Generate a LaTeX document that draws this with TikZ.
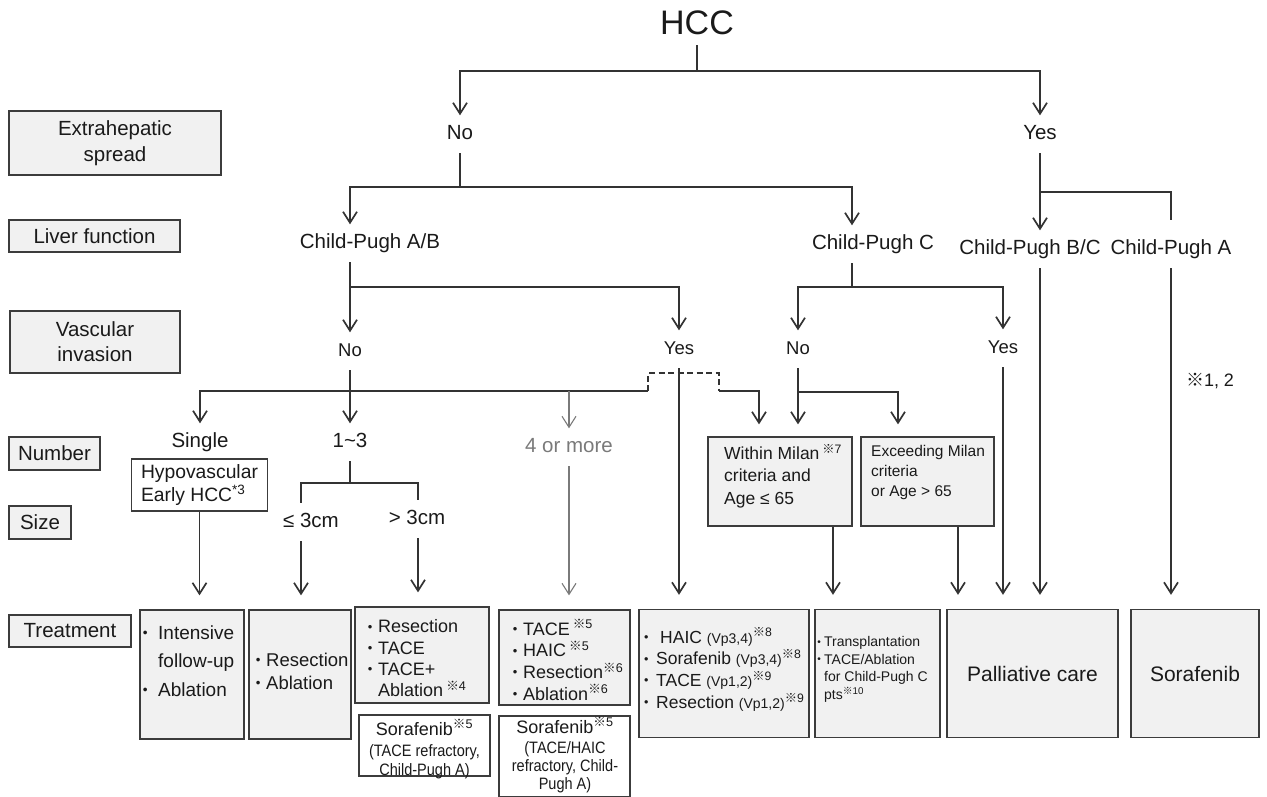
\documentclass[tikz,border=0pt]{standalone}
\usepackage{fontspec}
\setmainfont{Liberation Sans}
\newfontfamily\cjk{Noto Sans CJK JP}
\newfontfamily\cond[FakeStretch=0.88]{Liberation Sans}
\usetikzlibrary{arrows.meta}
\definecolor{lnc}{HTML}{333333}
\definecolor{txc}{HTML}{1A1A1A}
\definecolor{bxc}{HTML}{3C3C3C}
\definecolor{bxf}{HTML}{F1F1F1}
\definecolor{grc}{HTML}{7A7A7A}
\newcommand\fs[2]{\fontsize{#1pt}{#2pt}\selectfont}
\newcommand\rmk[1]{\textsuperscript{{\cjk ※}#1}}
\newcommand\bd[1]{\makebox[0pt]{\raisebox{0.1em}{\scalebox{0.72}{•}}}\hspace*{#1pt}}
\newcommand\vp{\fs{14}{17}}
\tikzset{
 ln/.style={draw=lnc, line width=1.7pt},
 thk/.style={draw=lnc, line width=2.7pt, line cap=rect},
 arr/.style={ln, -{Straight Barb[length=11pt,width=14pt]}},
 garr/.style={draw=grc, line width=1.1pt, -{Straight Barb[length=11pt,width=14pt]}},
 dsh/.style={ln, dash pattern=on 6pt off 3.5pt},
 lv/.style={text=txc, font=\fs{20.5}{24}, inner xsep=1pt, inner ysep=9pt, text height=15pt, text depth=4.5pt},
 lvs/.style={lv, font=\fs{18.5}{22}},
 labbox/.style={draw=bxc, line width=1.3pt, fill=bxf, text=txc, font=\fs{20.5}{26}, align=center, inner sep=0pt},
 box/.style={draw=bxc, line width=1.3pt, fill=bxf, inner sep=0pt},
 wbox/.style={box, fill=white},
 bt/.style={text=txc, inner sep=0pt, align=left, anchor=west},
 ct/.style={text=txc, inner sep=0pt, align=center},
}
\begin{document}
\begin{tikzpicture}[x=1pt,y=-1pt]
\useasboundingbox (0,0) rectangle (1267,796);
\fill[white] (0,0) rectangle (1267,796);

% row labels
\node[labbox, minimum width=212pt, minimum height=64pt] (lext) at (115,143) {Extrahepatic\\spread};
\node[labbox, minimum width=171pt, minimum height=32pt] (lliv) at (94.5,236) {Liver function};
\node[labbox, minimum width=170pt, minimum height=62pt, font=\fs{20.5}{25}] (lvas) at (95,342) {Vascular\\invasion};
\node[labbox, minimum width=91pt, minimum height=33pt] (lnum) at (54.5,453.5) {Number};
\node[labbox, minimum width=62pt, minimum height=33pt] (lsiz) at (40,522.5) {Size};
\node[labbox, minimum width=122pt, minimum height=32pt] (ltrt) at (70,631) {Treatment};

% level texts
\node[text=txc, font=\fs{34}{40}, inner sep=10pt] (hcc) at (697,23) {HCC};
\node[lv] (no1) at (460,134.25) {No};
\node[lv] (yes1) at (1040,134.25) {Yes};
\node[lv] (cpab) at (370,243.25) {Child-Pugh A/B};
\node[lv] (cpc) at (873,244.25) {Child-Pugh C};
\node[lv] (cpbc) at (1030,249.25) {Child-Pugh B/C};
\node[lv] (cpa) at (1171,249.25) {Child-Pugh A};
\node[lvs] (vno) at (350,351.25) {No};
\node[lvs] (vyes) at (679,349.25) {Yes};
\node[lvs] (cno) at (798,349.25) {No};
\node[lvs] (cyes) at (1003,348.25) {Yes};
\node[lv] (single) at (200,442.25) {Single};
\node[lv] (one3) at (350,442.25) {1\textasciitilde3};
\node[lv, text=grc] (four) at (569,447.25) {4 or more};
\node[lv] (le3) at (311,522.25) {≤ 3cm};
\node[lv] (gt3) at (417,519.25) {> 3cm};
\node[text=txc, font=\fs{18}{22}, inner sep=0pt] (r12) at (1210,381) {{\cjk ※}1, 2};

% intermediate boxes
\node[wbox, minimum width=136pt, minimum height=52pt, text=txc, font=\fs{19.3}{23.5}, align=left] (hypo) at (199.5,485) {Hypovascular\\Early HCC\textsuperscript{*3}};
\node[box, minimum width=144pt, minimum height=89pt] (milan) at (780,481.5) {};
\node[bt, font=\fs{17.5}{22.5}] (milant) at (724,476) {Within Milan\,\rmk{7}\\criteria and\\Age ≤ 65};
\node[box, minimum width=133pt, minimum height=89pt] (exc) at (927.5,481.5) {};
\node[bt, font=\fs{15.5}{20}] (exct) at (871,472.5) {Exceeding Milan\\criteria\\or Age > 65};

% treatment boxes
\node[box, minimum width=104pt, minimum height=129pt] (t1) at (192,674.5) {};
\node[bt, font=\fs{19}{28.5}] (t1t) at (145,661) {\bd{13}Intensive\\\hspace*{13pt}follow-up\\\bd{13}Ablation};
\node[box, minimum width=102pt, minimum height=129pt] (t2) at (300,674.5) {};
\node[bt, font=\fs{18.5}{23}] (t2t) at (258,671) {\bd{8}Resection\\\bd{8}Ablation};
\node[box, minimum width=134pt, minimum height=96pt] (t3) at (422,655) {};
\node[bt, font=\fs{18}{21.3}] (t3t) at (370,658.5) {\bd{8}Resection\\\bd{8}TACE\\\bd{8}TACE+\\\hspace*{8pt}Ablation\,\rmk{4}};
\node[wbox, minimum width=131pt, minimum height=61pt] (t3b) at (424.5,745.5) {};
\node[ct, font=\cond\fs{16.5}{18.5}] (t3bt) at (424.5,749) {{\fs{18}{22}\normalfont Sorafenib\rmk{5}}\\[3pt](TACE refractory,\\Child-Pugh A)};
\node[box, minimum width=131pt, minimum height=95pt] (t4) at (564.5,657.5) {};
\node[bt, font=\fs{18}{21.7}] (t4t) at (515,660) {\bd{8}TACE\,\rmk{5}\\\bd{8}HAIC\,\rmk{5}\\\bd{8}Resection\rmk{6}\\\bd{8}Ablation\rmk{6}};
\node[wbox, minimum width=131pt, minimum height=81pt] (t4b) at (564.5,756.5) {};
\node[ct, font=\cond\fs{16.5}{18}] (t4bt) at (565,755) {{\fs{18}{22}\normalfont Sorafenib\rmk{5}}\\[2pt](TACE/HAIC\\refractory, Child-\\Pugh A)};
\node[box, minimum width=170pt, minimum height=128pt] (t5) at (724,673.5) {};
\node[bt, font=\fs{17.5}{21.7}] (t5t) at (646,669.5) {\bd{14}HAIC {\vp(Vp3,4)}\rmk{8}\\\bd{10}Sorafenib {\vp(Vp3,4)}\rmk{8}\\\bd{10}TACE {\vp(Vp1,2)}\rmk{9}\\\bd{10}Resection {\vp(Vp1,2)}\rmk{9}};
\node[box, minimum width=125pt, minimum height=128pt] (t6) at (877.5,673.5) {};
\node[bt, font=\fs{14}{17.7}] (t6t) at (819,669.5) {\bd{5}Transplantation\\\bd{5}TACE/Ablation\\\hspace*{5pt}for Child-Pugh C\\\hspace*{5pt}pts\rmk{10}};
\node[box, minimum width=171pt, minimum height=128pt, text=txc, font=\fs{21}{25}] (t7) at (1032.5,673.5) {Palliative care};
\node[box, minimum width=128pt, minimum height=128pt, text=txc, font=\fs{21}{25}] (t8) at (1195,673.5) {Sorafenib};

% junctions and columns
\coordinate (j0) at (697,71);
\coordinate (j1) at (460,187);
\coordinate (j2) at (1040,192);
\coordinate (j3) at (350,287);
\coordinate (j4) at (852,287);
\coordinate (j5) at (350,391);
\coordinate (j6) at (350,483);
\coordinate (j7) at (798,392);
\coordinate (d1) at (648,391);
\coordinate (d2) at (719,391);
\coordinate (xAB) at (350,0);
\coordinate (xC) at (852,0);
\coordinate (xBC) at (1040,0);
\coordinate (xLe) at (301,0);
\coordinate (xGt) at (418,0);
\coordinate (xM1) at (759,0);
\coordinate (xEx) at (898,0);
\coordinate (xM2) at (833,0);
\coordinate (xE2) at (958,0);

% connectors
\draw[ln] (hcc.south) -- (hcc.south |- j0);
\draw[arr] (j0) -| (no1.north);
\draw[arr] (j0) -| (yes1.north);
\draw[ln] (no1.south) -- (j1);
\draw[arr] (j1) -| (xAB |- cpab.north);
\draw[arr] (j1) -| (xC |- cpc.north);
\draw[arr] (yes1.south) -- (xBC |- cpbc.north);
\draw[ln] (j2) -| ([yshift=10pt]cpa.north);
\draw[ln] (xAB |- cpab.south) -- (j3);
\draw[thk] (j3) -- (j3 -| vyes);
\draw[arr] (j3) -- (vno.north);
\draw[arr] (j3 -| vyes) -- (vyes.north);
\draw[ln] (xC |- cpc.south) -- (j4);
\draw[arr] (j4) -| (cno.north);
\draw[arr] (j4) -| (cyes.north);
\draw[arr] (vno.south) -- (one3.north);
\draw[arr] (j5) -| (single.north);
\draw[ln] (j5) -- (d1);
\draw[dsh] (d1) -- ++(0,-18) -| (d2);
\draw[arr, shorten >=12pt] (d2) -| (xM1 |- milan.north);
\draw[garr] (j5 -| four) -- (four.north);
\draw[arr, shorten >=14pt] (vyes.south) -- (vyes.south |- t5.north);
\draw[arr, shorten >=12pt] (cno.south) -- (cno.south |- milan.north);
\draw[arr, shorten >=12pt] (j7) -| (xEx |- exc.north);
\draw[arr, shorten >=14pt] (cyes.south) -- (cyes.south |- t7.north);
\draw[arr, shorten >=14pt] (xBC |- cpbc.south) -- (xBC |- t7.north);
\draw[arr, shorten >=14pt] (cpa.south) -- (cpa.south |- t8.north);
\draw[arr, shorten >=14pt] (xM2 |- milan.south) -- (xM2 |- t6.north);
\draw[arr, shorten >=14pt] (xE2 |- exc.south) -- (xE2 |- t7.north);
\draw[arr, shorten >=14pt] (hypo.south) -- (hypo.south |- t1.north);
\draw[ln] (one3.south) -- (j6);
\draw[thk] (j6 -| xLe) -- (j6 -| xGt);
\draw[ln] (j6 -| xLe) -- (xLe |- le3.north);
\draw[ln] (j6 -| xGt) -- (xGt |- gt3.north);
\draw[arr, shorten >=14pt] (xLe |- le3.south) -- (xLe |- t2.north);
\draw[arr, shorten >=14pt] (xGt |- gt3.south) -- (xGt |- t3.north);
\draw[garr, shorten >=14pt] (four.south) -- (four.south |- t4.north);
\end{tikzpicture}
\end{document}
